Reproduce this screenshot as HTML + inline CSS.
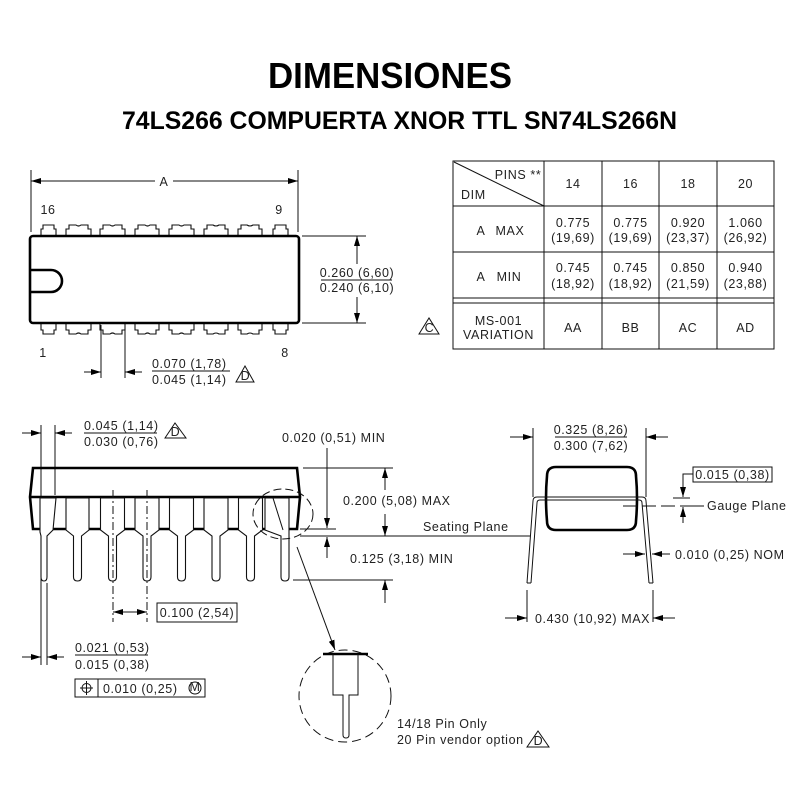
<!DOCTYPE html>
<html><head><meta charset="utf-8">
<style>
html,body{margin:0;padding:0;background:#fff;}
svg{display:block;}
.t{font-family:"Liberation Sans",sans-serif;font-size:12.5px;letter-spacing:0.6px;fill:#222;}
.tb{font-family:"Liberation Sans",sans-serif;font-weight:bold;fill:#000;}
.l{stroke:#111;stroke-width:1;fill:none;}
.k{stroke:#000;stroke-width:2.6;fill:none;}
.p{stroke:#111;stroke-width:1.1;fill:#fff;}
</style></head><body>
<svg width="800" height="800" viewBox="0 0 800 800" xmlns="http://www.w3.org/2000/svg">
<defs>
<marker id="ar" viewBox="0 0 10 6" refX="10" refY="3" markerWidth="10" markerHeight="6" markerUnits="userSpaceOnUse" orient="auto"><path d="M0,0 L10,3 L0,6z" fill="#000"/></marker>
</defs>
<rect width="800" height="800" fill="#fff"/>

<!-- Titles -->
<text class="tb" x="268" y="88" font-size="36" textLength="244" lengthAdjust="spacingAndGlyphs">DIMENSIONES</text>
<text class="tb" x="122" y="129" font-size="25" textLength="555" lengthAdjust="spacingAndGlyphs">74LS266 COMPUERTA XNOR TTL SN74LS266N</text>

<!-- ===== TOP VIEW ===== -->
<line class="l" x1="31" y1="170" x2="31" y2="232"/>
<line class="l" x1="298" y1="170" x2="298" y2="232"/>
<line class="l" x1="155" y1="181" x2="31" y2="181" marker-end="url(#ar)"/>
<line class="l" x1="173" y1="181" x2="298" y2="181" marker-end="url(#ar)"/>
<text class="t" x="164" y="186" text-anchor="middle">A</text>
<text class="t" x="48" y="214" text-anchor="middle">16</text>
<text class="t" x="279" y="214" text-anchor="middle">9</text>
<text class="t" x="43" y="357" text-anchor="middle">1</text>
<text class="t" x="285" y="357" text-anchor="middle">8</text>

<!-- top pins -->
<g class="p">
<path d="M41,236 V229 H43 V225 H54 V229 H56 V236"/>
<path d="M66,236 V229 H69 V225 H76 Q78.5,227 81,225 H88 V229 H91 V236"/>
<path d="M100,236 V229 H103 V225 H110 Q112.5,227 115,225 H122 V229 H125 V236"/>
<path d="M135,236 V229 H138 V225 H145 Q147.5,227 150,225 H156 V229 H159 V236"/>
<path d="M169,236 V229 H172 V225 H179 Q181.5,227 184,225 H191 V229 H194 V236"/>
<path d="M204,236 V229 H207 V225 H213 Q216,227 219,225 H225 V229 H228 V236"/>
<path d="M238,236 V229 H241 V225 H247 Q250,227 253,225 H259 V229 H262 V236"/>
<path d="M273,236 V229 H275 V225 H286 V229 H288 V236"/>
<path d="M41,323 V330 H43 V334 H54 V330 H56 V323"/>
<path d="M66,323 V330 H69 V334 H76 Q78.5,332 81,334 H88 V330 H91 V323"/>
<path d="M100,323 V330 H103 V334 H110 Q112.5,332 115,334 H122 V330 H125 V323"/>
<path d="M135,323 V330 H138 V334 H145 Q147.5,332 150,334 H156 V330 H159 V323"/>
<path d="M169,323 V330 H172 V334 H179 Q181.5,332 184,334 H191 V330 H194 V323"/>
<path d="M204,323 V330 H207 V334 H213 Q216,332 219,334 H225 V330 H228 V323"/>
<path d="M238,323 V330 H241 V334 H247 Q250,332 253,334 H259 V330 H262 V323"/>
<path d="M273,323 V330 H275 V334 H286 V330 H288 V323"/>
</g>
<rect class="k" x="30" y="236" width="269" height="87" rx="3"/>
<path class="k" d="M30,270 H51 A11,11 0 0 1 51,292 H30" stroke-width="2.2"/>

<!-- right height dim -->
<line class="l" x1="302" y1="236" x2="366" y2="236"/>
<line class="l" x1="302" y1="323" x2="366" y2="323"/>
<line class="l" x1="357" y1="264" x2="357" y2="236" marker-end="url(#ar)"/>
<line class="l" x1="357" y1="297" x2="357" y2="323" marker-end="url(#ar)"/>
<text class="t" x="357" y="277" text-anchor="middle">0.260 (6,60)</text>
<line class="l" x1="321" y1="280" x2="392" y2="280"/>
<text class="t" x="357" y="292" text-anchor="middle">0.240 (6,10)</text>

<!-- pin width dim -->
<line class="l" x1="101" y1="325" x2="101" y2="378"/>
<line class="l" x1="125" y1="325" x2="125" y2="378"/>
<line class="l" x1="84" y1="372" x2="101" y2="372" marker-end="url(#ar)"/>
<line class="l" x1="142" y1="372" x2="125" y2="372" marker-end="url(#ar)"/>
<text class="t" x="152" y="368">0.070 (1,78)</text>
<line class="l" x1="152" y1="371" x2="230" y2="371"/>
<text class="t" x="152" y="384">0.045 (1,14)</text>
<path class="l" d="M236,382 L245,366 L254,382 Z"/>
<text class="t" x="245.5" y="380" text-anchor="middle" font-size="9" letter-spacing="0">D</text>

<!-- ===== TABLE ===== -->
<g class="l">
<rect x="453" y="161" width="321" height="188"/>
<line x1="544" y1="161" x2="544" y2="349"/>
<line x1="602" y1="161" x2="602" y2="349"/>
<line x1="659" y1="161" x2="659" y2="349"/>
<line x1="717" y1="161" x2="717" y2="349"/>
<line x1="453" y1="206" x2="774" y2="206"/>
<line x1="453" y1="252" x2="774" y2="252"/>
<line x1="453" y1="298" x2="774" y2="298"/>
<line x1="453" y1="303" x2="774" y2="303"/>
<line x1="454" y1="162" x2="544" y2="206"/>
</g>
<text class="t" x="518" y="179" text-anchor="middle">PINS **</text>
<text class="t" x="461" y="199">DIM</text>
<text class="t" x="573" y="188" text-anchor="middle">14</text>
<text class="t" x="630.5" y="188" text-anchor="middle">16</text>
<text class="t" x="688" y="188" text-anchor="middle">18</text>
<text class="t" x="745.5" y="188" text-anchor="middle">20</text>
<text class="t" x="481" y="235" text-anchor="middle">A</text>
<text class="t" x="510" y="235" text-anchor="middle">MAX</text>
<text class="t" x="573" y="227" text-anchor="middle">0.775</text>
<text class="t" x="573" y="242" text-anchor="middle">(19,69)</text>
<text class="t" x="630.5" y="227" text-anchor="middle">0.775</text>
<text class="t" x="630.5" y="242" text-anchor="middle">(19,69)</text>
<text class="t" x="688" y="227" text-anchor="middle">0.920</text>
<text class="t" x="688" y="242" text-anchor="middle">(23,37)</text>
<text class="t" x="745.5" y="227" text-anchor="middle">1.060</text>
<text class="t" x="745.5" y="242" text-anchor="middle">(26,92)</text>
<text class="t" x="481" y="281" text-anchor="middle">A</text>
<text class="t" x="509" y="281" text-anchor="middle">MIN</text>
<text class="t" x="573" y="272" text-anchor="middle">0.745</text>
<text class="t" x="573" y="288" text-anchor="middle">(18,92)</text>
<text class="t" x="630.5" y="272" text-anchor="middle">0.745</text>
<text class="t" x="630.5" y="288" text-anchor="middle">(18,92)</text>
<text class="t" x="688" y="272" text-anchor="middle">0.850</text>
<text class="t" x="688" y="288" text-anchor="middle">(21,59)</text>
<text class="t" x="745.5" y="272" text-anchor="middle">0.940</text>
<text class="t" x="745.5" y="288" text-anchor="middle">(23,88)</text>
<text class="t" x="498.5" y="325" text-anchor="middle">MS-001</text>
<text class="t" x="498.5" y="339" text-anchor="middle">VARIATION</text>
<text class="t" x="573" y="332" text-anchor="middle">AA</text>
<text class="t" x="630.5" y="332" text-anchor="middle">BB</text>
<text class="t" x="688" y="332" text-anchor="middle">AC</text>
<text class="t" x="745.5" y="332" text-anchor="middle">AD</text>
<path class="l" d="M419,334 L429,318 L439,334 Z"/>
<text class="t" x="429.5" y="332" text-anchor="middle" font-size="9" letter-spacing="0">C</text>

<!-- ===== SIDE VIEW ===== -->
<line class="l" x1="41" y1="425" x2="41" y2="665"/>
<line class="l" x1="55" y1="425" x2="55" y2="495"/>
<line class="l" x1="47" y1="583" x2="47" y2="665"/>
<line class="l" x1="22" y1="433" x2="41" y2="433" marker-end="url(#ar)"/>
<line class="l" x1="72" y1="433" x2="55" y2="433" marker-end="url(#ar)"/>
<text class="t" x="84" y="430">0.045 (1,14)</text>
<line class="l" x1="84" y1="433" x2="157" y2="433"/>
<text class="t" x="84" y="446">0.030 (0,76)</text>
<path class="l" d="M165,438 L175,423 L186,438 Z"/>
<text class="t" x="175.5" y="436" text-anchor="middle" font-size="9" letter-spacing="0">D</text>

<!-- body -->
<path class="k" d="M33,468 H297 L300,497 L297,529 H33 L30,497 Z"/>
<line class="k" x1="30" y1="497" x2="300" y2="497"/>

<!-- pins -->
<g class="p">
<path d="M40,498 V532 L41,536 V577 Q41,581 44,581 Q47,581 47,577 V536 L53,530 L56,498 Z"/>
<path d="M66,498 V530 L73.5,536 V577 Q73.5,581 77.5,581 Q81.5,581 81.5,577 V536 L89,530 V498 Z"/>
<path d="M100.5,498 V530 L108.5,536 V577 Q108.5,581 112.5,581 Q116.5,581 116.5,577 V536 L124.5,530 V498 Z"/>
<path d="M135,498 V530 L143,536 V577 Q143,581 147,581 Q151,581 151,577 V536 L159,530 V498 Z"/>
<path d="M169.5,498 V530 L177.5,536 V577 Q177.5,581 181.5,581 Q185.5,581 185.5,577 V536 L193.5,530 V498 Z"/>
<path d="M204,498 V530 L212,536 V577 Q212,581 216,581 Q220,581 220,577 V536 L228,530 V498 Z"/>
<path d="M238.5,498 V530 L246.5,536 V577 Q246.5,581 250.5,581 Q254.5,581 254.5,577 V536 L262.5,530 V498 Z"/>
<path d="M265,498 V530 L281,536 V577 Q281,581 285,581 Q289,581 289,577 V536 L289,530 V498 Z"/>
</g>
<line class="l" x1="273" y1="498" x2="283" y2="530"/>
<line class="l" x1="113" y1="490" x2="113" y2="622" stroke-dasharray="8,3,2,3" stroke-width="0.9"/>
<line class="l" x1="147" y1="490" x2="147" y2="622" stroke-dasharray="8,3,2,3" stroke-width="0.9"/>
<line class="l" x1="130" y1="612" x2="113" y2="612" marker-end="url(#ar)"/>
<line class="l" x1="130" y1="612" x2="147" y2="612" marker-end="url(#ar)"/>
<rect class="l" x="157" y="603" width="80" height="19"/>
<text class="t" x="197" y="617" text-anchor="middle">0.100 (2,54)</text>

<line class="l" x1="22" y1="657" x2="41" y2="657" marker-end="url(#ar)"/>
<line class="l" x1="64" y1="657" x2="47" y2="657" marker-end="url(#ar)"/>
<text class="t" x="75" y="652">0.021 (0,53)</text>
<line class="l" x1="75" y1="655" x2="148" y2="655"/>
<text class="t" x="75" y="669">0.015 (0,38)</text>
<rect class="l" x="75" y="679" width="130" height="18"/>
<line class="l" x1="98" y1="679" x2="98" y2="697"/>
<circle class="l" cx="86.5" cy="688" r="4.5"/>
<line class="l" x1="80" y1="688" x2="93" y2="688"/>
<line class="l" x1="86.5" y1="681" x2="86.5" y2="695"/>
<text class="t" x="103" y="693">0.010 (0,25)</text>
<circle class="l" cx="195" cy="688" r="6"/>
<text class="t" x="195" y="691" text-anchor="middle" font-size="8" letter-spacing="0">M</text>

<!-- dashed circle around last pin -->
<ellipse class="l" cx="283" cy="514" rx="30" ry="25" stroke-dasharray="8,4"/>
<line class="l" x1="297" y1="547" x2="335" y2="650" marker-end="url(#ar)"/>

<!-- right dims -->
<text class="t" x="282" y="442">0.020 (0,51) MIN</text>
<line class="l" x1="327" y1="448" x2="327" y2="528" marker-end="url(#ar)"/>
<line class="l" x1="300" y1="529" x2="336" y2="529"/>
<line class="l" x1="327" y1="558" x2="327" y2="537" marker-end="url(#ar)"/>
<line class="l" x1="303" y1="468" x2="393" y2="468"/>
<line class="l" x1="385" y1="490" x2="385" y2="468" marker-end="url(#ar)"/>
<line class="l" x1="385" y1="514" x2="385" y2="536" marker-end="url(#ar)"/>
<text class="t" x="343" y="505">0.200 (5,08) MAX</text>
<line class="l" x1="300" y1="536" x2="530" y2="536"/>
<text class="t" x="423" y="531">Seating Plane</text>
<text class="t" x="350" y="563">0.125 (3,18) MIN</text>
<line class="l" x1="293" y1="580" x2="393" y2="580"/>
<line class="l" x1="385" y1="603" x2="385" y2="580" marker-end="url(#ar)"/>

<!-- detail -->
<circle class="l" cx="345" cy="696" r="46" stroke-dasharray="9,5"/>
<line class="k" x1="323" y1="654" x2="368" y2="654"/>
<path class="l" stroke-width="1.2" d="M333,654 V695 H343 V735 Q343,738 346,738 Q349,738 349,735 V695 H358 V654"/>
<text class="t" x="397" y="728">14/18 Pin Only</text>
<text class="t" x="397" y="744">20 Pin vendor option</text>
<path class="l" d="M527,747 L538,731 L549,747 Z"/>
<text class="t" x="538.5" y="745" text-anchor="middle" font-size="9" letter-spacing="0">D</text>

<!-- ===== END VIEW ===== -->
<line class="l" x1="533" y1="428" x2="533" y2="497"/>
<line class="l" x1="646" y1="428" x2="646" y2="497"/>
<line class="l" x1="510" y1="437" x2="533" y2="437" marker-end="url(#ar)"/>
<line class="l" x1="668" y1="437" x2="646" y2="437" marker-end="url(#ar)"/>
<text class="t" x="591" y="434" text-anchor="middle">0.325 (8,26)</text>
<line class="l" x1="555" y1="437" x2="627" y2="437"/>
<text class="t" x="591" y="450" text-anchor="middle">0.300 (7,62)</text>

<path class="k" stroke-width="3" d="M556,467 H627 Q636,467 636,476 Q638,498 636,521 Q636,530 627,530 H556 Q547,530 547,521 Q545,498 547,476 Q547,467 556,467 Z"/>
<path class="l" stroke-width="1.2" d="M527,583 L533,501 Q533,497 537,497 H642 Q646,497 646,501 L653,583"/>
<path class="l" stroke-width="1.2" d="M531,583 L537,503 Q537,500 540,500 H639 Q642,500 642,503 L649,583"/>
<line class="l" x1="527" y1="583" x2="531" y2="583"/>
<line class="l" x1="649" y1="583" x2="653" y2="583"/>

<line class="l" x1="623" y1="506" x2="690" y2="506" stroke-dasharray="14,5"/>
<line class="l" x1="690" y1="506" x2="704" y2="506"/>
<text class="t" x="707" y="510">Gauge Plane</text>
<rect class="l" x="693" y="467" width="79" height="15"/>
<text class="t" x="732.5" y="479" text-anchor="middle">0.015 (0,38)</text>
<polyline class="l" points="693,474 683,474 683,497" marker-end="url(#ar)"/>
<line class="l" x1="673" y1="498" x2="690" y2="498"/>
<line class="l" x1="683" y1="523" x2="683" y2="507" marker-end="url(#ar)"/>

<line class="l" x1="623" y1="554" x2="645" y2="554" marker-end="url(#ar)"/>
<line class="l" x1="670" y1="554" x2="652" y2="554" marker-end="url(#ar)"/>
<text class="t" x="675" y="559">0.010 (0,25) NOM</text>

<line class="l" x1="527" y1="590" x2="527" y2="622"/>
<line class="l" x1="653" y1="590" x2="653" y2="622"/>
<line class="l" x1="505" y1="618" x2="527" y2="618" marker-end="url(#ar)"/>
<line class="l" x1="675" y1="618" x2="653" y2="618" marker-end="url(#ar)"/>
<text class="t" x="535" y="623">0.430 (10,92) MAX</text>
</svg>
</body></html>
